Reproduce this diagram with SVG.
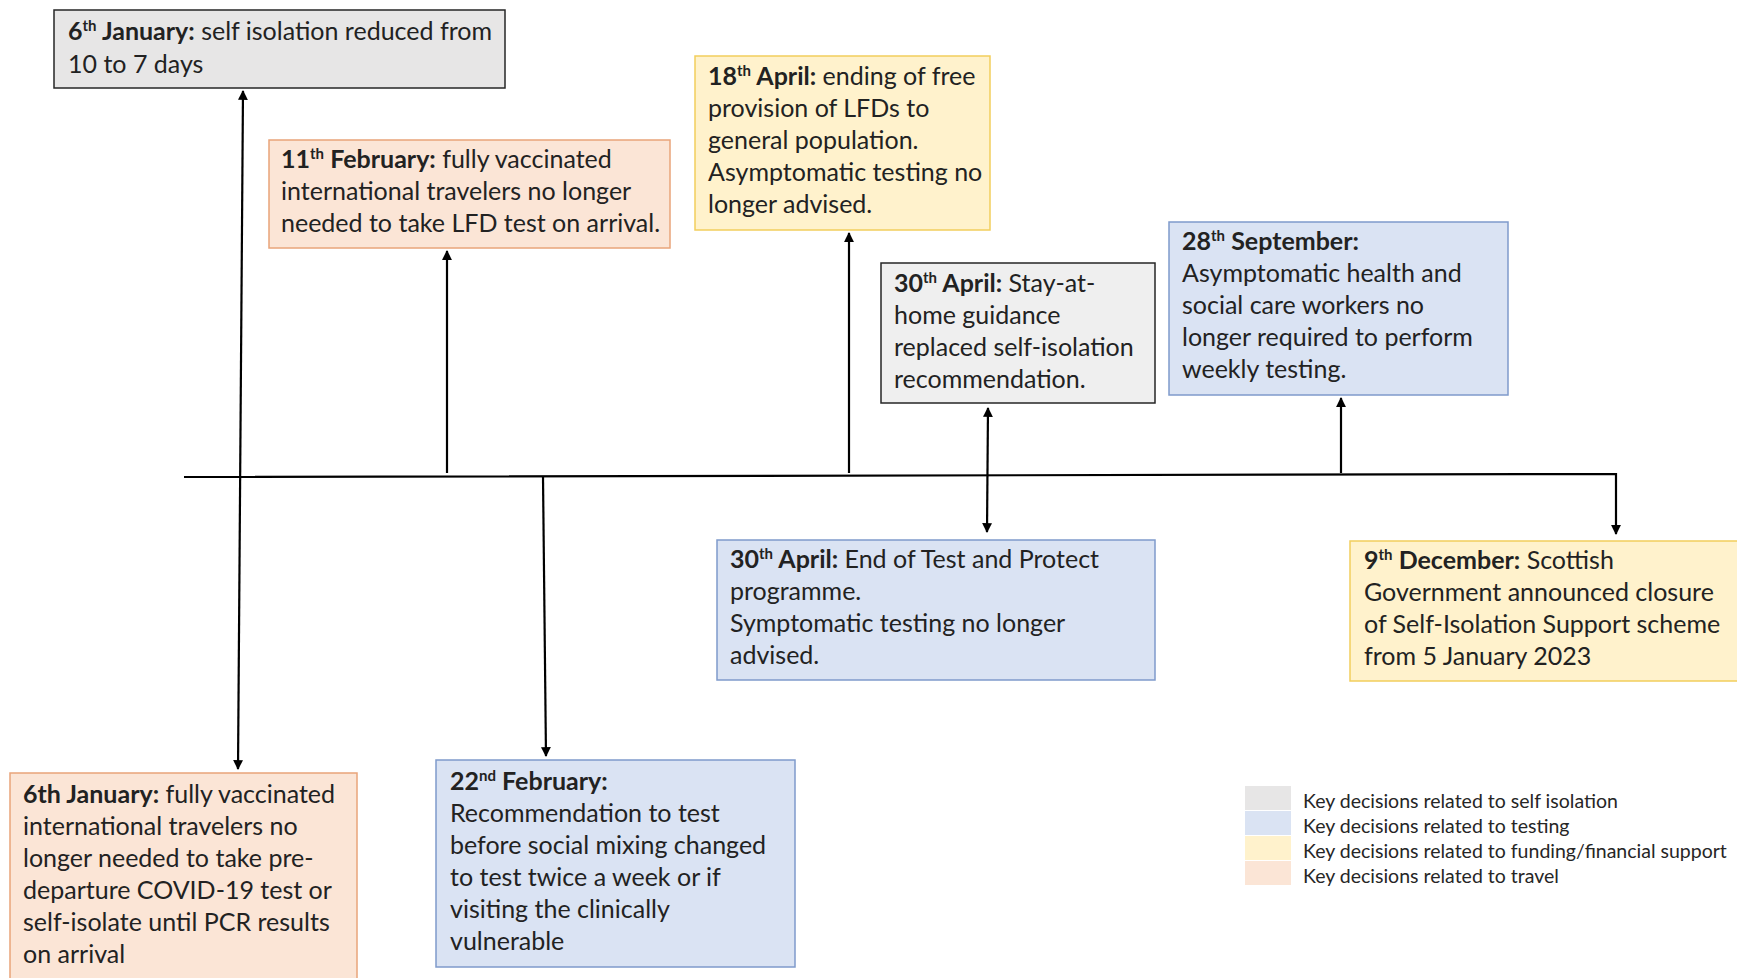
<svg xmlns="http://www.w3.org/2000/svg" width="1737" height="978" viewBox="0 0 1737 978">
<defs>
<marker id="ah" viewBox="0 0 10 10" refX="9" refY="5" markerWidth="4.5" markerHeight="4.5" orient="auto-start-reverse" markerUnits="strokeWidth">
<path d="M0,0 L10,5 L0,10 z" fill="#000"/>
</marker>
<style>
.t{font-family:Lato,"Liberation Sans",sans-serif;font-size:25px;fill:#222}
.b{font-weight:bold}
.s{font-size:15px;font-weight:bold}
.lg{font-family:Lato,"Liberation Sans",sans-serif;font-size:19.5px;fill:#262626}
.grey{fill:#E7E6E6;stroke:#262626;stroke-width:1.5}
.grey2{fill:#EFEFEF;stroke:#262626;stroke-width:1.5}
.blue{fill:#DAE3F3;stroke:#7F9ACB;stroke-width:1.5}
.yel{fill:#FFF2CC;stroke:#F2CE5C;stroke-width:1.5}
.pch{fill:#FBE5D6;stroke:#E9A47A;stroke-width:1.5}
.c{fill:none;stroke:#000;stroke-width:2.2}
</style>
</defs>
<rect width="1737" height="978" fill="#fff"/>

<g id="connectors">
<polyline class="c" points="184,477 1616,474 1616,534" marker-end="url(#ah)"/>
<line class="c" x1="238" y1="769" x2="243" y2="91" marker-start="url(#ah)" marker-end="url(#ah)"/>
<line class="c" x1="447" y1="473" x2="447" y2="251" marker-end="url(#ah)"/>
<line class="c" x1="543" y1="477" x2="546" y2="756" marker-end="url(#ah)"/>
<line class="c" x1="849" y1="473" x2="849" y2="233" marker-end="url(#ah)"/>
<line class="c" x1="988" y1="408" x2="987" y2="532" marker-start="url(#ah)" marker-end="url(#ah)"/>
<line class="c" x1="1341" y1="473" x2="1341" y2="398" marker-end="url(#ah)"/>
</g>

<g id="n_jan6_iso">
<rect class="grey" x="54" y="10" width="451" height="78"/>
<text class="t" x="68" y="40"><tspan class="b">6</tspan><tspan class="s" dy="-9">th</tspan><tspan class="b" dy="9"> January:</tspan> self isolation reduced from</text>
<text class="t" x="68" y="73">10 to 7 days</text>
</g>

<g id="n_feb11">
<rect class="pch" x="269" y="140" width="401" height="108"/>
<text class="t" x="281" y="168"><tspan class="b">11</tspan><tspan class="s" dy="-9">th</tspan><tspan class="b" dy="9"> February:</tspan> fully vaccinated</text>
<text class="t" x="281" y="200">international travelers no longer</text>
<text class="t" x="281" y="232">needed to take LFD test on arrival.</text>
</g>

<g id="n_apr18">
<rect class="yel" x="695" y="56" width="295" height="174"/>
<text class="t" x="708" y="85"><tspan class="b">18</tspan><tspan class="s" dy="-9">th</tspan><tspan class="b" dy="9"> April:</tspan> ending of free</text>
<text class="t" x="708" y="117">provision of LFDs to</text>
<text class="t" x="708" y="149">general population.</text>
<text class="t" x="708" y="181">Asymptomatic testing no</text>
<text class="t" x="708" y="213">longer advised.</text>
</g>

<g id="n_apr30_home">
<rect class="grey2" x="881" y="263" width="274" height="140"/>
<text class="t" x="894" y="292"><tspan class="b">30</tspan><tspan class="s" dy="-9">th</tspan><tspan class="b" dy="9"> April:</tspan> Stay-at-</text>
<text class="t" x="894" y="324">home guidance</text>
<text class="t" x="894" y="356">replaced self-isolation</text>
<text class="t" x="894" y="388">recommendation.</text>
</g>

<g id="n_sep28">
<rect class="blue" x="1169" y="222" width="339" height="173"/>
<text class="t" x="1182" y="250"><tspan class="b">28</tspan><tspan class="s" dy="-9">th</tspan><tspan class="b" dy="9"> September:</tspan></text>
<text class="t" x="1182" y="282">Asymptomatic health and</text>
<text class="t" x="1182" y="314">social care workers no</text>
<text class="t" x="1182" y="346">longer required to perform</text>
<text class="t" x="1182" y="378">weekly testing.</text>
</g>

<g id="n_apr30_tp">
<rect class="blue" x="717" y="540" width="438" height="140"/>
<text class="t" x="730" y="568"><tspan class="b">30</tspan><tspan class="s" dy="-9">th</tspan><tspan class="b" dy="9"> April:</tspan> End of Test and Protect</text>
<text class="t" x="730" y="600">programme.</text>
<text class="t" x="730" y="632">Symptomatic testing no longer</text>
<text class="t" x="730" y="664">advised.</text>
</g>

<g id="n_dec9">
<rect class="yel" x="1350" y="541" width="400" height="140"/>
<text class="t" x="1364" y="569"><tspan class="b">9</tspan><tspan class="s" dy="-9">th</tspan><tspan class="b" dy="9"> December:</tspan> Scottish</text>
<text class="t" x="1364" y="601">Government announced closure</text>
<text class="t" x="1364" y="633">of Self-Isolation Support scheme</text>
<text class="t" x="1364" y="665">from 5 January 2023</text>
</g>

<g id="n_feb22">
<rect class="blue" x="436" y="760" width="359" height="207"/>
<text class="t" x="450" y="790"><tspan class="b">22</tspan><tspan class="s" dy="-9">nd</tspan><tspan class="b" dy="9"> February:</tspan></text>
<text class="t" x="450" y="822">Recommendation to test</text>
<text class="t" x="450" y="854">before social mixing changed</text>
<text class="t" x="450" y="886">to test twice a week or if</text>
<text class="t" x="450" y="918">visiting the clinically</text>
<text class="t" x="450" y="950">vulnerable</text>
</g>

<g id="n_jan6_travel">
<rect class="pch" x="10" y="773" width="347" height="215"/>
<text class="t" x="23" y="803"><tspan class="b">6th January:</tspan> fully vaccinated</text>
<text class="t" x="23" y="835">international travelers no</text>
<text class="t" x="23" y="867">longer needed to take pre-</text>
<text class="t" x="23" y="899">departure COVID-19 test or</text>
<text class="t" x="23" y="931">self-isolate until PCR results</text>
<text class="t" x="23" y="963">on arrival</text>
</g>

<g id="legend">
<rect x="1245" y="786" width="46" height="24" fill="#E7E6E6"/>
<rect x="1245" y="811" width="46" height="24" fill="#DAE3F3"/>
<rect x="1245" y="836" width="46" height="24" fill="#FFF2CC"/>
<rect x="1245" y="861" width="46" height="24" fill="#FBE5D6"/>
<text class="lg" x="1303" y="808">Key decisions related to self isolation</text>
<text class="lg" x="1303" y="833">Key decisions related to testing</text>
<text class="lg" x="1303" y="858">Key decisions related to funding/financial support</text>
<text class="lg" x="1303" y="883">Key decisions related to travel</text>
</g>
</svg>
